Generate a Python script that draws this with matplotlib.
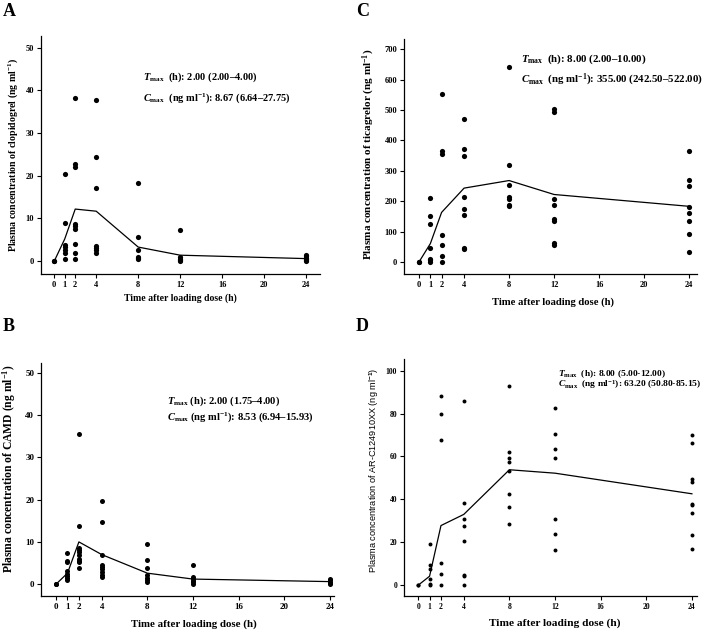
import matplotlib.pyplot as plt

plt.rcParams["font.family"] = "Liberation Serif"
plt.rcParams["font.weight"] = "bold"
plt.rcParams["mathtext.fontset"] = "custom"
plt.rcParams["mathtext.rm"] = "Liberation Serif:bold"
plt.rcParams["mathtext.it"] = "Liberation Serif:italic:bold"
plt.rcParams["mathtext.bf"] = "Liberation Serif:bold"
plt.rcParams["mathtext.sf"] = "Liberation Sans"

time_ticks = [0, 1, 2, 4, 8, 12, 16, 20, 24]
times = [0, 1, 2, 4, 8, 12, 24]

# A: clopidogrel, individual points per time
clop_pts = {
    0: [0, 0],
    1: [20.5, 8.9, 3.8, 3.3, 2.7, 1.8, 0.5],
    2: [38.2, 22.7, 22.0, 8.8, 8.2, 7.5, 4.0, 2.0, 0.5],
    4: [37.8, 24.4, 17.1, 3.5, 3.0, 2.5, 2.0],
    8: [18.2, 5.7, 2.5, 1.0, 0.7, 0.4],
    12: [7.4, 1.0, 0.5, 0.2, 0.0],
    24: [1.5, 1.2, 0.8, 0.5, 0.2, 0.0],
}
clop_mean = [0, 5.2, 12.2, 11.7, 3.3, 1.4, 0.6]

# B: CAMD
camd_pts = {
    0: [0, 0],
    1: [7.4, 5.5, 5.2, 3.0, 2.5, 2.0, 1.5, 0.9],
    2: [35.6, 13.8, 8.5, 8.0, 7.5, 7.0, 6.0, 5.5, 5.2, 3.8],
    4: [19.6, 14.6, 6.8, 4.5, 4.0, 3.5, 2.8, 2.2, 1.8],
    8: [9.5, 5.7, 3.8, 2.2, 1.5, 1.0, 0.5],
    12: [4.6, 1.8, 1.2, 0.8, 0.4, 0.1],
    24: [1.2, 0.9, 0.6, 0.3, 0.1],
}
camd_mean = [0, 2.6, 10.0, 7.0, 2.6, 1.2, 0.6]

# C: ticagrelor
tica_pts = {
    0: [0, 0],
    1: [212, 150, 124, 44, 10, 5, 0],
    2: [552, 365, 357, 88, 55, 20, 0],
    4: [470, 372, 348, 215, 174, 153, 45, 42],
    8: [641, 320, 253, 215, 208, 188, 184],
    12: [503, 494, 208, 187, 141, 133, 62, 57],
    24: [367, 270, 250, 181, 162, 136, 92, 33],
}
tica_mean = [0, 60, 163, 243, 268, 222, 183]

# D: AR-C124910XX
arc_pts = {
    0: [0, 0],
    1: [19.3, 9.6, 7.5, 3.0, 0.5, 0],
    2: [88.0, 79.6, 67.5, 10.3, 5.3, 0],
    4: [85.7, 38.5, 30.8, 27.5, 20.6, 5.0, 4.5, 0],
    8: [92.8, 62.0, 59.5, 57.3, 53.0, 42.6, 36.3, 28.7],
    12: [82.4, 70.6, 63.3, 59.1, 30.8, 23.8, 16.2],
    24: [70.2, 66.3, 49.3, 47.9, 37.9, 37.3, 33.6, 23.3, 16.7],
}
arc_mean = [0, 4.2, 27.8, 33.0, 53.8, 52.2, 42.6]


def draw(ax, pts, mean, xlim, ylim, yticks, ylabel, txt, txt_xy, msize,
         ylab_kw, xlab_fs, tick_fs, txt_fs, xlab_pos, ylab_pos):
    for t, vals in pts.items():
        ax.scatter([t] * len(vals), vals, s=msize, color="black", zorder=3, linewidths=0)
    ax.plot(times, mean, color="black", lw=0.9)
    ax.set_xlim(*xlim)
    ax.set_ylim(*ylim)
    ax.set_xticks(time_ticks)
    ax.set_yticks(yticks)
    ax.tick_params(direction="out", length=3, width=0.8, labelsize=tick_fs, pad=2)
    for lab in ax.get_xticklabels() + ax.get_yticklabels():
        lab.set_fontweight("bold")
    for s in ["top", "right"]:
        ax.spines[s].set_visible(False)
    for s in ["left", "bottom"]:
        ax.spines[s].set_linewidth(0.9)
    ax.set_xlabel("Time after loading dose (h)", fontsize=xlab_fs, fontweight="bold")
    ax.xaxis.set_label_coords(*xlab_pos)
    ax.set_ylabel(ylabel, **ylab_kw)
    ax.yaxis.set_label_coords(*ylab_pos)
    ax.text(txt_xy[0], txt_xy[1], txt[0], fontsize=txt_fs, fontweight="bold")
    ax.text(txt_xy[0], txt_xy[2], txt[1], fontsize=txt_fs, fontweight="bold")


fig = plt.figure(figsize=(7.09, 6.32), dpi=100)
axA = fig.add_axes([0.058, 0.5665, 0.393, 0.377])
axC = fig.add_axes([0.570, 0.5665, 0.413, 0.372])
axB = fig.add_axes([0.058, 0.057, 0.413, 0.369])
axD = fig.add_axes([0.570, 0.057, 0.413, 0.375])

draw(axA, clop_pts, clop_mean, (-1.25, 25.3), (-3, 52.8), [0, 10, 20, 30, 40, 50],
     "Plasma concentration of clopidogrel (ng ml$^{-1}$)",
     [r"$T_{\mathrm{max}}$  (h): 2.00 (2.00–4.00)",
      r"$C_{\mathrm{max}}$  (ng ml$^{-1}$): 8.67 (6.64–27.75)"],
     (8.5, 42.4, 37.5), 14, dict(fontsize=7.1, fontweight="bold"), 7.0, 6, 7.5,
     (0.50, -0.08), (-0.075, 0.5))

draw(axC, tica_pts, tica_mean, (-1.33, 24.7), (-40, 735), [0, 100, 200, 300, 400, 500, 600, 700],
     "Plasma concentration of ticagrelor (ng ml$^{-1}$)",
     [r"$T_{\mathrm{max}}$  (h): 8.00 (2.00–10.00)",
      r"$C_{\mathrm{max}}$  (ng ml$^{-1}$): 355.00 (242.50–522.00)"],
     (9.1, 659, 590), 14, dict(fontsize=8, fontweight="bold"), 7.7, 6, 7.8,
     (0.51, -0.098), (-0.092, 0.51))

draw(axB, camd_pts, camd_mean, (-1.31, 24.35), (-2.8, 52.4), [0, 10, 20, 30, 40, 50],
     "Plasma concentration of CAMD (ng ml$^{-1}$)",
     [r"$T_{\mathrm{max}}$ (h): 2.00 (1.75–4.00)",
      r"$C_{\mathrm{max}}$ (ng ml$^{-1}$): 8.53 (6.94–15.93)"],
     (9.7, 42.6, 38.9), 13, dict(fontsize=8.4, fontweight="bold"), 7.8, 6.5, 7.6,
     (0.52, -0.099), (-0.078, 0.545))

draw(axD, arc_pts, arc_mean, (-1.23, 24.44), (-5, 105.4), [0, 20, 40, 60, 80, 100],
     r"Plasma concentration of AR-C124910XX (ng ml$\mathsf{^{-1}}$)",
     [r"$T_{\mathrm{max}}$  (h): 8.00 (5.00-12.00)",
      r"$C_{\mathrm{max}}$  (ng ml$^{-1}$): 63.20 (50.80-85.15)"],
     (12.26, 97.6, 92.2), 8, dict(fontsize=6.6, fontweight="normal", family="Liberation Sans"),
     8.2, 5.5, 6.8,
     (0.515, -0.093), (-0.078, 0.53))

fig.text(0.004, 0.995, "A", fontsize=13, fontweight="bold", va="top")
fig.text(0.502, 0.995, "C", fontsize=13, fontweight="bold", va="top")
fig.text(0.004, 0.497, "B", fontsize=13, fontweight="bold", va="top")
fig.text(0.502, 0.497, "D", fontsize=13, fontweight="bold", va="top")

fig.savefig("out.png", dpi=100)
